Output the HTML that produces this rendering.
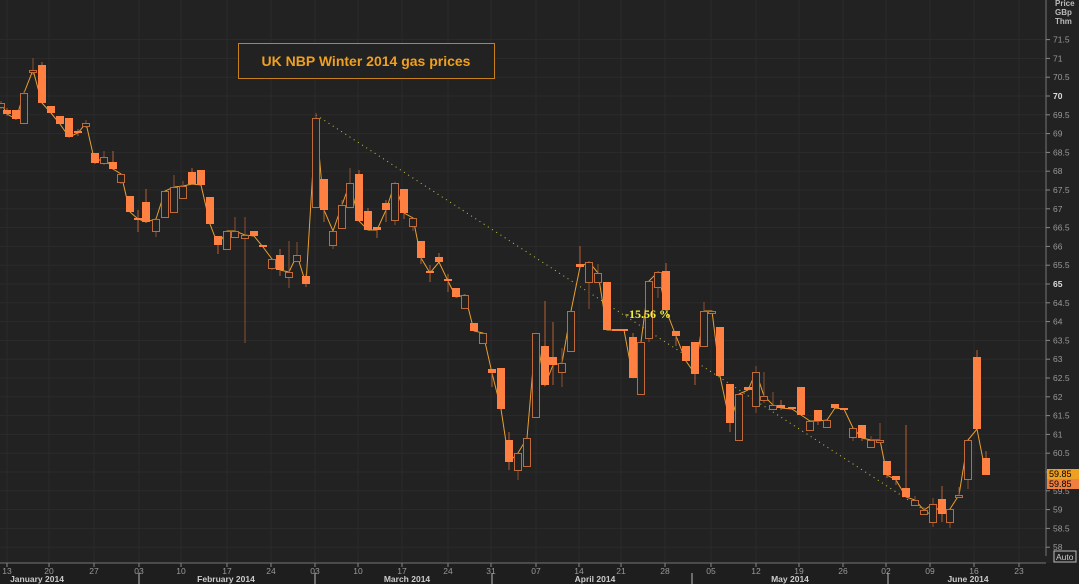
<!DOCTYPE html>
<html><head><meta charset="utf-8">
<style>
html,body{margin:0;padding:0;background:#222;}
svg{display:block;font-family:"Liberation Sans",sans-serif;}
</style></head>
<body>
<svg id="c" width="1079" height="584" xmlns="http://www.w3.org/2000/svg"></svg>
<script>
const s=document.getElementById('c');let h='';
h+='<rect width="1079" height="584" fill="#222"/>';
h+='<rect x="0" y="563" width="1079" height="21" fill="#1e1e1e"/>';
for(let p=58;p<=71.5;p+=0.5){const y=96+(70-p)*37.6;h+=`<line x1="0" x2="1046" y1="${y}" y2="${y}" stroke="#2b2b2b" stroke-width="1"/>`;}
const wk=[7,49,94,139,181,227,271,315,358,402,448,491,536,579,621,665,711,756,799,843,886,930,974,1019];
const wl=['13','20','27','03','10','17','24','03','10','17','24','31','07','14','21','28','05','12','19','26','02','09','16','23'];
wk.forEach((x,i)=>{h+=`<line x1="${x}" x2="${x}" y1="0" y2="563" stroke="#2a2a2a"/>`;h+=`<line x1="${x}" x2="${x}" y1="563" y2="567" stroke="#888"/>`;h+=`<text x="${x}" y="574" fill="#999" font-size="8.5" text-anchor="middle">${wl[i]}</text>`;});
h+='<line x1="0" x2="1046" y1="563" y2="563" stroke="#777"/>';
[139,315,492,692,888].forEach(x=>h+=`<line x1="${x}" x2="${x}" y1="573" y2="584" stroke="#bbb"/>`);
[['January 2014',37],['February 2014',226],['March 2014',407],['April 2014',595],['May 2014',790],['June 2014',968]].forEach(([t,x])=>h+=`<text x="${x}" y="582" fill="#ccc" font-size="8.5" font-weight="bold" text-anchor="middle">${t}</text>`);
h+='<line x1="1046" x2="1046" y1="0" y2="556" stroke="#777"/>';
h+='<text x="1055" y="6" fill="#bbb" font-size="8" font-weight="bold">Price</text><text x="1055" y="15" fill="#bbb" font-size="8" font-weight="bold">GBp</text><text x="1055" y="24" fill="#bbb" font-size="8" font-weight="bold">Thm</text>';
for(let p=58;p<=71.5;p+=0.5){const y=96+(70-p)*37.6;h+=`<line x1="1046" x2="1050" y1="${y}" y2="${y}" stroke="#888"/>`;const b=(p==70||p==65);h+=`<text x="1053" y="${y+3}" fill="${b?'#ddd':'#999'}" font-size="8.5" ${b?'font-weight="bold"':''}>${p}</text>`;}
h+='<rect x="1047" y="469" width="32" height="10" fill="#f0a020"/><text x="1049" y="477" font-size="9" fill="#000">59.85</text>';
h+='<rect x="1047" y="479" width="32" height="10" fill="#f08040"/><text x="1049" y="487" font-size="9" fill="#000">59.85</text>';
h+='<rect x="1054" y="551" width="22" height="11" fill="none" stroke="#bbb"/><text x="1056" y="560" font-size="8.5" fill="#ccc">Auto</text>';
const C=[[1,103,107,101,109,0],[7,110,114,108,116,1],[16,110,119,110,120,1],[24,93,123,91,123,0],[33,70,72,58,75,0],[42,65,103,62,103,1],[51,106,113,106,113,1],[60,116,124,116,124,1],[69,118,137,118,137,1],[78,131,133,129,136,1],[86,123,126,120,128,0],[95,153,163,153,163,1],[104,157,163,151,165,0],[113,162,169,151,170,1],[121,174,182,174,184,0],[130,196,212,196,212,1],[138,218,219,210,232,1],[146,202,222,189,223,1],[156,219,231,219,237,0],[165,191,217,191,217,0],[174,187,212,175,212,0],[183,186,198,181,198,0],[192,172,184,168,184,1],[201,170,185,170,185,1],[210,197,224,197,224,1],[218,236,245,236,254,1],[227,231,249,231,249,0],[235,231,237,217,237,0],[245,235,238,217,343,0],[254,231,236,231,236,1],[263,245,247,245,247,1],[272,259,268,259,270,0],[280,255,270,249,276,1],[289,272,277,241,288,0],[297,255,261,242,261,0],[306,276,284,274,287,1],
[316,118,207,113,207,0],[324,179,210,179,222,1],[333,231,245,231,249,0],[342,205,228,200,228,0],[350,183,207,168,207,0],[359,174,221,170,221,1],[368,211,230,208,230,1],[377,227,230,227,238,1],[386,203,210,200,222,1],[395,183,220,182,225,0],[404,189,213,189,219,1],[413,218,226,218,231,0],[421,241,258,241,264,1],[430,271,273,265,282,1],[439,257,262,253,262,1],[448,279,281,274,292,1],[456,288,297,288,297,1],[465,295,308,295,308,0],[474,323,331,323,331,1],[483,333,343,333,343,0],[492,369,373,369,387,1],[501,368,409,368,409,1],[509,440,462,432,470,1],[518,453,470,453,480,0],[527,438,466,438,467,0],[536,333,417,333,417,0],[545,346,385,301,385,1],[553,357,365,322,385,1],[562,363,372,348,387,0],[571,311,351,311,351,0],[580,264,267,246,267,1],[589,262,282,262,309,0],[598,273,282,264,282,0],[607,282,330,282,330,1],[616,329,330,329,330,1],[624,329,330,329,330,1],[633,337,378,333,378,1],[641,342,394,342,394,0],[649,281,338,281,342,0],[658,272,287,272,298,0],[666,271,310,263,310,1],[676,331,336,331,346,1],[686,346,361,346,362,1],[695,342,374,342,385,1],[704,311,346,302,346,0],[712,311,313,311,313,0],[720,327,376,327,376,1],[730,384,423,384,432,1],[739,394,440,394,440,0],[748,387,390,387,390,1],[756,372,406,366,413,0],[764,396,400,372,403,0],[773,405,409,392,409,0],[781,405,408,400,410,1],[792,407,409,407,409,1],[801,387,415,387,415,1],[810,421,430,421,430,0],[818,410,421,410,425,1],[827,420,427,420,427,0],[835,404,408,404,408,1],[844,408,409,408,409,1],[853,428,437,428,441,0],[862,425,438,425,441,1],[871,440,447,436,448,0],[880,440,442,423,443,0],[887,461,475,461,478,1],[896,476,480,476,485,1],[906,488,497,425,497,1],[915,500,505,496,506,0],[924,510,514,507,514,0],[933,504,522,498,527,0],[942,499,514,486,522,1],[950,509,522,509,528,0],[959,495,497,487,497,0],[968,440,479,440,489,0],[977,357,429,350,429,1],[986,458,475,451,475,1]];
h+='<line x1="316" y1="115" x2="930" y2="514" stroke="#c8c840" stroke-width="1" stroke-dasharray="1,4"/>';
let pts=C.map(c=>`${c[0]},${c[5]?c[2]:c[1]}`).join(' ');
h+=`<polyline points="${pts}" fill="none" stroke="#e8a030" stroke-width="1"/>`;
C.forEach(c=>{const[x,t,b,wt,wb,f]=c;
h+=`<line x1="${x}" x2="${x}" y1="${wt}" y2="${wb}" stroke="${f?'#b86030':'#8a5030'}"/>`;
if(f)h+=`<rect x="${x-4}" y="${t}" width="8" height="${Math.max(b-t,2)}" fill="#ff8040"/>`;
else h+=`<rect x="${x-3.5}" y="${t+0.5}" width="7" height="${Math.max(b-t,2)}" fill="#222" stroke="#c06a3a"/>`;});
h+='<text x="625" y="318" fill="#f0f040" font-size="12" font-weight="bold" font-family="Liberation Serif,serif">-15.56 %</text>';
h+='<rect x="238.5" y="43.5" width="256" height="35" fill="#222" stroke="#c8801e"/>';
h+='<text x="366" y="66" fill="#f0a020" font-size="14" font-weight="bold" text-anchor="middle">UK NBP Winter 2014 gas prices</text>';
s.innerHTML=h;
</script>
</body></html>
